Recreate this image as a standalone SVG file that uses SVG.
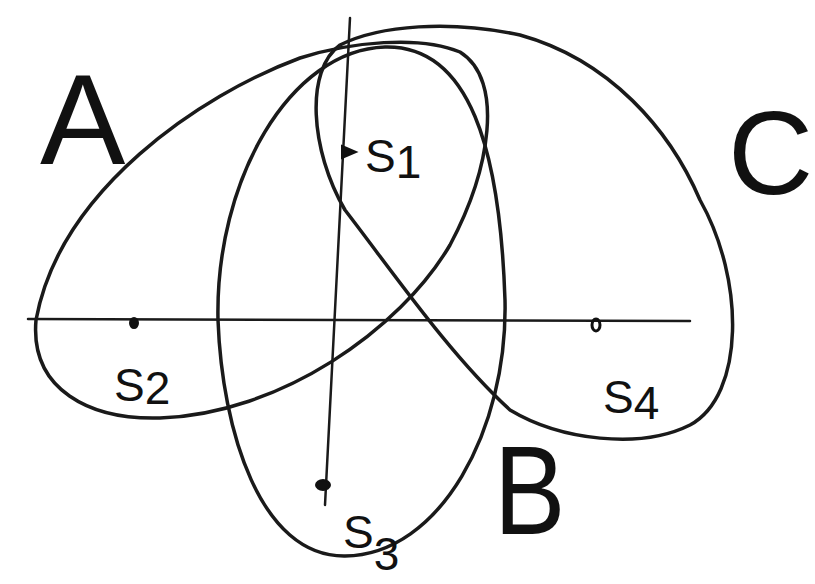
<svg xmlns="http://www.w3.org/2000/svg" width="815" height="584" viewBox="0 0 815 584">
<style>
.loop{fill:none;stroke:#1a1a1a;stroke-width:3.5;stroke-linecap:round;stroke-linejoin:round}
.axis{fill:none;stroke:#1a1a1a;stroke-width:2.5;stroke-linecap:round}
.big{font-family:"Liberation Sans","DejaVu Sans",sans-serif;fill:#111}
.sub{font-family:"Liberation Sans","DejaVu Sans",sans-serif;fill:#111;font-size:46px}
.dot{fill:#111;stroke:#111;stroke-width:2}
</style>
<rect width="815" height="584" fill="#fff"/>
<g id="loops">
<g id="loop-A"><path class="loop" d="M300,58 C200,95 60,190 36,320 C30,390 90,420 160,418 C280,414 400,330 450,245 C490,170 505,80 460,52 C420,35 350,42 300,58 Z"/></g>
<g id="loop-B"><path class="loop" d="M385,47 C470,45 500,150 505,300 C508,430 440,555 345,556 C260,557 222,430 218,320 C215,180 290,50 385,47 Z"/></g>
<g id="loop-C"><path class="loop" d="M340,45 C305,70 310,150 345,210 C395,275 450,355 510,410 C560,440 640,450 690,425 C745,395 745,280 700,200 C670,130 610,60 520,35 C450,20 380,25 340,45 Z"/></g>
</g>
<g id="connectors">
<line class="axis" x1="28" y1="319" x2="690" y2="321"/>
<line class="axis" x1="350" y1="18" x2="325" y2="505"/>
</g>
<g id="points">
<g id="p-S1"><polygon class="dot" points="342,146 356,152 342,158"/></g>
<g id="p-S2"><ellipse class="dot" cx="134" cy="323" rx="4" ry="5"/></g>
<g id="p-S3"><ellipse class="dot" cx="323" cy="485" rx="7" ry="5"/></g>
<g id="p-S4"><ellipse cx="596" cy="325" rx="4" ry="6" fill="none" stroke="#111" stroke-width="3"/></g>
</g>
<g id="labels">
<text class="big" x="40" y="164" font-size="128">A</text>
<text class="big" x="728" y="194" font-size="118">C</text>
<text class="big" x="494" y="534" font-size="126" transform="translate(494 0) scale(0.85 1) translate(-494 0)">B</text>
<text class="sub" x="365" y="172">S<tspan dy="6">1</tspan></text>
<text class="sub" x="114" y="401">S<tspan dy="3">2</tspan></text>
<text class="sub" x="603" y="413">S<tspan dy="6">4</tspan></text>
<text class="sub" x="343" y="548" font-size="42">S<tspan dy="22">3</tspan></text>
</g>
</svg>
